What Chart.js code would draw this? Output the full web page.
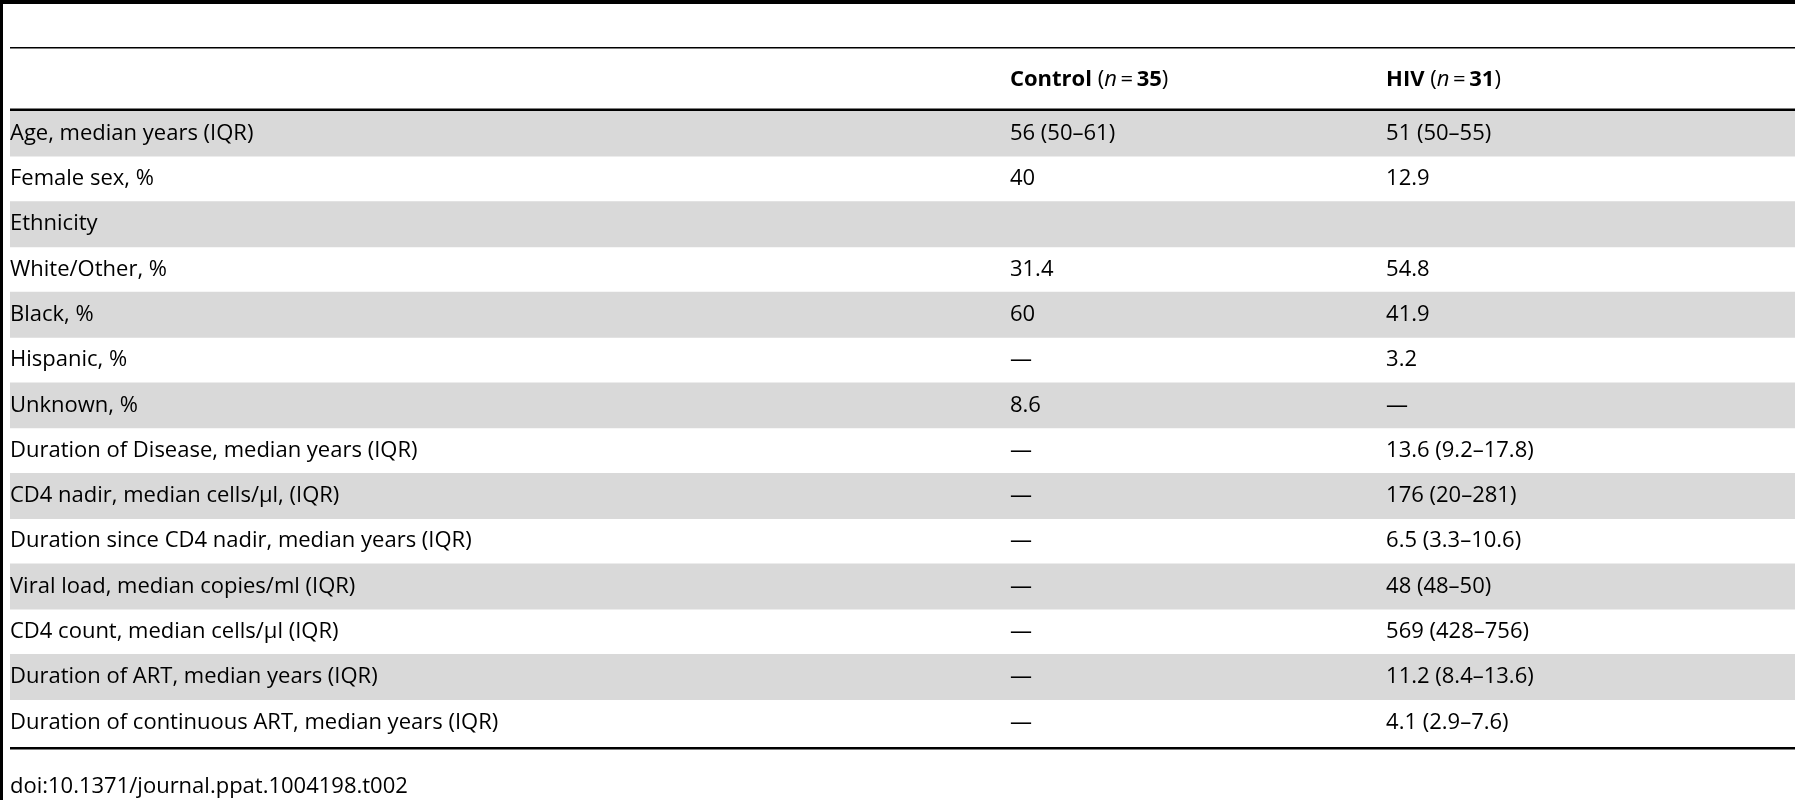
<!DOCTYPE html>
<html><head><meta charset="utf-8">
<script src="https://cdn.jsdelivr.net/npm/chart.js@4"></script>
<style>html,body{margin:0;padding:0;background:#fff;overflow:hidden}</style>
</head><body>
<canvas id="c" width="1795" height="800"></canvas>
<script>
const rowLabels = ["Age, median years (IQR)","Female sex, %","Ethnicity","White/Other, %","Black, %","Hispanic, %","Unknown, %","Duration of Disease, median years (IQR)","CD4 nadir, median cells/\u00b5l, (IQR)","Duration since CD4 nadir, median years (IQR)","Viral load, median copies/ml (IQR)","CD4 count, median cells/\u00b5l (IQR)","Duration of ART, median years (IQR)","Duration of continuous ART, median years (IQR)"];
const controlValues = ["56 (50\u201361)","40","","31.4","60","\u2014","8.6","\u2014","\u2014","\u2014","\u2014","\u2014","\u2014","\u2014"];
const hivValues = ["51 (50\u201355)","12.9","","54.8","41.9","3.2","\u2014","13.6 (9.2\u201317.8)","176 (20\u2013281)","6.5 (3.3\u201310.6)","48 (48\u201350)","569 (428\u2013756)","11.2 (8.4\u201313.6)","4.1 (2.9\u20137.6)"];
const shaded = [1,0,1,0,1,0,1,0,1,0,1,0,1,0];
const columnX = [0, 0.5602, 0.7709];
const headerControl = [["Control ","bold"],["(","normal"],["n","italic"],["\u2009=\u2009","normal"],["35","bold"],[")","normal"]];
const headerHIV = [["HIV ","bold"],["(","normal"],["n","italic"],["\u2009=\u2009","normal"],["31","bold"],[")","normal"]];
const footer = "doi:10.1371/journal.ppat.1004198.t002";

const F = '"Open Sans", "Noto Sans", sans-serif';
const SZ = '22px ';
const tablePlugin = {
  id:'table',
  afterDatasetsDraw(chart){
    const ctx = chart.ctx, x = chart.scales.x, y = chart.scales.y, a = chart.chartArea;
    ctx.save();
    ctx.fillStyle = '#000';
    ctx.fillRect(0,0,3,800);
    ctx.fillRect(0,0,1795,4);
    ctx.fillRect(a.left,47,1795-a.left,1.5);
    ctx.fillRect(a.left,a.top-2.5,1795-a.left,2.5);
    ctx.fillRect(a.left,a.bottom+2,1795-a.left,2.5);
    ctx.textBaseline='middle';
    ctx.font = SZ+F;
    rowLabels.forEach((lab,i)=>{
      const py = y.getPixelForValue(i);
      ctx.fillText(lab, x.getPixelForValue(columnX[0]), py);
      ctx.fillText(controlValues[i], x.getPixelForValue(columnX[1]), py);
      ctx.fillText(hivValues[i], x.getPixelForValue(columnX[2]), py);
    });
    const hy = 80;
    [[headerControl,columnX[1]],[headerHIV,columnX[2]]].forEach(([parts,cx])=>{
      let px = x.getPixelForValue(cx);
      parts.forEach(([t,s])=>{
        ctx.font = (s==='bold'?'bold ':s==='italic'?'italic ':'')+SZ+F;
        ctx.fillText(t,px,hy); px += ctx.measureText(t).width;
      });
    });
    ctx.font = SZ+F;
    ctx.fillText(footer, x.getPixelForValue(columnX[0]), 787);
    ctx.restore();
  }
};
new Chart(document.getElementById('c'),{
  type:'bar',
  data:{labels:rowLabels,datasets:[{data:shaded.map(s=>s?1:null),backgroundColor:'#d9d9d9',barPercentage:1,categoryPercentage:1,borderWidth:0}]},
  options:{
    indexAxis:'y',responsive:false,animation:false,devicePixelRatio:1,
    layout:{padding:{left:10,right:0,top:111,bottom:55}},
    plugins:{legend:{display:false},tooltip:{enabled:false}},
    scales:{x:{type:'linear',min:0,max:1,display:false},y:{type:'category',display:false}}
  },
  plugins:[tablePlugin]
});
</script>
</body></html>
